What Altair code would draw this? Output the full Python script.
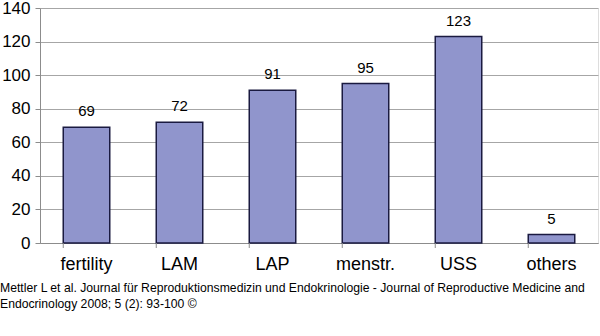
import altair as alt
import pandas as pd

categories = ["fertility", "LAM", "LAP", "menstr.", "USS", "others"]
values = [69, 72, 91, 95, 123, 5]
y_ticks = [0, 20, 40, 60, 80, 100, 120, 140]
caption = [
    "Mettler L et al. Journal für Reproduktionsmedizin und Endokrinologie - Journal of Reproductive Medicine and",
    "Endocrinology 2008; 5 (2): 93-100 ©",
]

df = pd.DataFrame({"cat": categories, "val": values})
FONT = "Liberation Sans"

x_scale = alt.Scale(paddingInner=0.5, paddingOuter=0.25)
x_axis = alt.Axis(labelAngle=0, ticks=False, labelFontSize=18, labelFont=FONT,
                  labelColor="black", labelPadding=12, domainColor="#8c8c8c",
                  domainWidth=1, grid=False)
x = alt.X("cat:N", sort=categories, title=None, scale=x_scale, axis=x_axis)
y = alt.Y("val:Q", title=None,
          scale=alt.Scale(domain=[0, 140], nice=False),
          axis=alt.Axis(values=y_ticks, labelFontSize=17, labelFont=FONT, labelColor="black",
                        tickSize=5, tickColor="#8c8c8c", domainColor="#8c8c8c",
                        gridColor="#a6a6a6", labelPadding=5, labelOverlap=False,
                        labelFlush=False, labelBound=False))

base = alt.Chart(df)
bars = base.mark_bar(color="#9095cc", stroke="#1a1a40", strokeWidth=1.5).encode(x=x, y=y)
labels = base.mark_text(font=FONT, fontSize=15, color="black", baseline="alphabetic", dy=-11).encode(
    x=x, y=y, text="val:Q")
ticks = base.mark_rule(color="#8c8c8c").encode(
    x=alt.X("cat:N", sort=categories, bandPosition=0, title=None, scale=x_scale, axis=x_axis),
    y=alt.value(235), y2=alt.value(240))

chart = alt.layer(bars, labels, ticks).properties(
    width=558, height=235,
    autosize=alt.AutoSizeParams(type="none"),
    padding={"left": 40, "top": 8, "right": 2, "bottom": 93},
    title=alt.TitleParams(text=caption, orient="bottom", anchor="start", frame="group",
                          dx=-40, offset=9,
                          fontSize=12.2, font=FONT, fontWeight="normal", color="black",
                          lineHeight=16),
).configure_view(stroke=None).configure(background="white")

chart.save("out.html", embed_options={"renderer": "svg", "actions": False})
